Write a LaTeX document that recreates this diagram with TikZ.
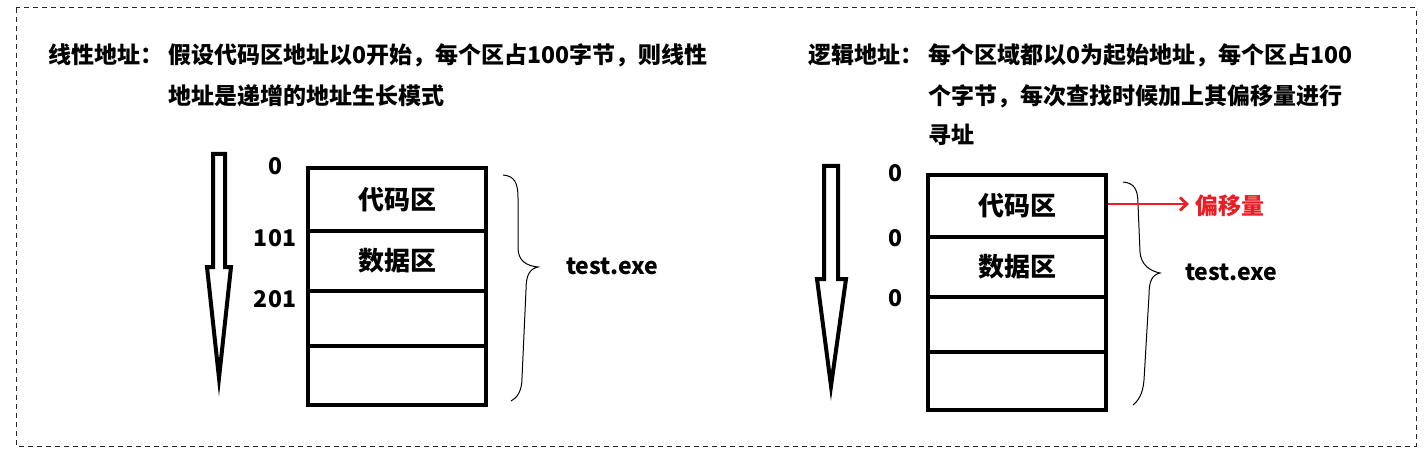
\documentclass[tikz,border=0pt]{standalone}
\usepackage{fontspec}
\setmainfont{Noto Sans CJK SC}
\usetikzlibrary{arrows.meta}
\definecolor{pred}{RGB}{237,28,36}
\begin{document}
\begin{tikzpicture}[x=1pt,y=-1pt,
  hdr/.style={anchor=west,inner sep=0pt,font=\fontsize{23}{23}\selectfont\bfseries},
  num/.style={inner sep=0pt,font=\fontsize{23}{23}\selectfont\bfseries},
  cell/.style={draw,line width=4pt,minimum width=178pt,inner sep=0pt,font=\fontsize{26}{26}\selectfont\bfseries},
  hollowarrow/.style={draw,line width=4pt,line join=miter},
  brace/.style={draw,line width=1pt},
  offarrow/.style={draw=pred,line width=2.8pt,-{Straight Barb[length=7pt,width=13pt]}}]
\useasboundingbox (0,0) rectangle (1426,457);
\fill[white] (0,0) rectangle (1426,457);
\draw[line width=1pt,dash pattern=on 5pt off 4pt,black!85] (16,8) rectangle (1416,446);

% headers
\node[hdr] (lh) at (48,55) {线性地址：};
\node[hdr] (lb1) at (168,55) {假设代码区地址以0开始，每个区占100字节，则线性};
\node[hdr] (lb2) at (168,96) {地址是递增的地址生长模式};
\node[hdr] (rh) at (808,55) {逻辑地址：};
\node[hdr] (rb1) at (928,55) {每个区域都以0为起始地址，每个区占100};
\node[hdr] (rb2) at (928,96) {个字节，每次查找时候加上其偏移量进行};
\node[hdr] (rb3) at (928,135) {寻址};

% left hollow arrow
\draw[hollowarrow] (213,154) -- (225,154) -- (225,267) -- (231,267) -- (219,378) -- (207,267) -- (213,267) -- cycle;
% right hollow arrow
\draw[hollowarrow] (824,166) -- (838,166) -- (838,279) -- (846,279) -- (831,386) -- (817,279) -- (824,279) -- cycle;

% left memory cells
\node[cell,minimum height=63pt] (L1) at (397,199.5) {代码区\hspace{14pt}};
\node[cell,minimum height=60pt] (L2) at (397,261) {数据区\hspace{14pt}};
\node[cell,minimum height=55pt] (L3) at (397,318.5) {};
\node[cell,minimum height=59pt] (L4) at (397,375.5) {};

% right memory cells
\node[cell,minimum height=62.3pt] (R1) at (1017,205.85) {代码区\hspace{14pt}};
\node[cell,minimum height=60pt] (R2) at (1017,267) {数据区\hspace{14pt}};
\node[cell,minimum height=55pt] (R3) at (1017,324.5) {};
\node[cell,minimum height=58pt] (R4) at (1017,381) {};

% address labels
\node[num] (a0) at (275,166) {0};
\node[num] (a1) at (275,238) {101};
\node[num] (a2) at (275,299) {201};
\node[num] (b0) at (895,173) {0};
\node[num] (b1) at (895,238) {0};
\node[num] (b2) at (895,298) {0};

% braces
\draw[brace] (503,175) .. controls (514,176) and (518,182) .. (518,198) -- (518,248) .. controls (518,261) and (527,266) .. (538,267) .. controls (529,269) and (526,276) .. (526,290) -- (522,378) .. controls (522,391) and (517,398) .. (511,401);
\draw[brace] (1123,182) .. controls (1134,183) and (1138,189) .. (1138,204) -- (1140,252) .. controls (1141,265) and (1150,271) .. (1160,273) .. controls (1152,275) and (1149,281) .. (1149,295) -- (1144,380) .. controls (1143,394) and (1138,401) .. (1133,405);

\node[num,anchor=west] (t1) at (566,266) {test.exe};
\node[num,anchor=west] (t2) at (1185,272) {test.exe};

% offset arrow
\node[num,anchor=west,text=pred,inner sep=0pt] (off) at (1195,206) {偏移量};
\draw[offarrow] (R1.east |- 0,204) -- (1189,204);
\end{tikzpicture}
\end{document}
